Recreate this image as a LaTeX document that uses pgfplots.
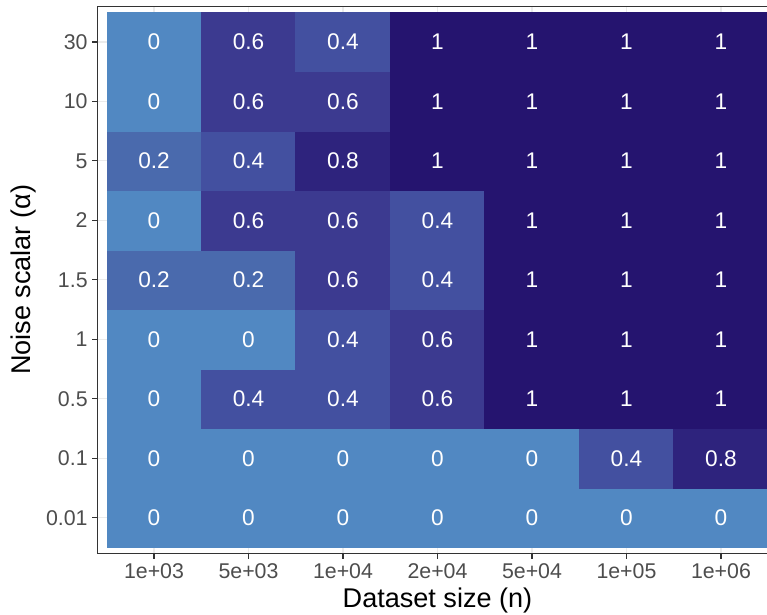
\documentclass[border=0pt]{standalone}
\usepackage{pgfplots}
\pgfplotsset{compat=1.18}
\usepackage{pgfplotstable}
\usepackage{fontspec}
\setmainfont{Liberation Sans}
\definecolor{tickgray}{HTML}{4D4D4D}
\definecolor{bordergray}{HTML}{333333}
\definecolor{gridgray}{HTML}{EBEBEB}
\pgfplotstableread{
x y c
0 0 0
1 0 0
2 0 0
3 0 0
4 0 0
5 0 0
6 0 0
0 1 0
1 1 0
2 1 0
3 1 0
4 1 0
5 1 0.4
6 1 0.8
0 2 0
1 2 0.4
2 2 0.4
3 2 0.6
4 2 1
5 2 1
6 2 1
0 3 0
1 3 0
2 3 0.4
3 3 0.6
4 3 1
5 3 1
6 3 1
0 4 0.2
1 4 0.2
2 4 0.6
3 4 0.4
4 4 1
5 4 1
6 4 1
0 5 0
1 5 0.6
2 5 0.6
3 5 0.4
4 5 1
5 5 1
6 5 1
0 6 0.2
1 6 0.4
2 6 0.8
3 6 1
4 6 1
5 6 1
6 6 1
0 7 0
1 7 0.6
2 7 0.6
3 7 1
4 7 1
5 7 1
6 7 1
0 8 0
1 8 0.6
2 8 0.4
3 8 1
4 8 1
5 8 1
6 8 1
}\heat
\begin{document}
\begin{tikzpicture}
\begin{axis}[
  scale only axis,
  width=510.3pt, height=410.55pt,
  xmin=-0.6, xmax=6.6, ymin=-0.6, ymax=8.6,
  axis line style={bordergray, line width=0.8pt},
  xtick={0,...,6},
  xticklabels={1e+03,5e+03,1e+04,2e+04,5e+04,1e+05,1e+06},
  ytick={0,...,8},
  yticklabels={0.01,0.1,0.5,1,1.5,2,5,10,30},
  tick align=outside,
  major tick length=3.75pt,
  tick style={bordergray, line width=0.8pt},
  xtick pos=bottom, ytick pos=left,
  ticklabel style={font=\fontsize{16}{19}\selectfont, text=tickgray},
  grid=major,
  major grid style={gridgray, line width=0.8pt},
  xlabel={Dataset size (n)},
  ylabel={Noise scalar (α)},
  label style={font=\fontsize{20.3}{24}\selectfont},
  xlabel style={yshift=0pt},
  ylabel style={yshift=1pt},
  colormap={hm}{rgb255=(81,136,194) rgb255=(74,106,173) rgb255=(67,80,160) rgb255=(60,58,144) rgb255=(46,35,125) rgb255=(37,20,111)},
  point meta min=0, point meta max=1,
  /pgf/number format/assume math mode=true,
]
\addplot[matrix plot*, mesh/cols=7, point meta=explicit] table[x=x, y=y, meta=c] {\heat};
\addplot[only marks, mark=none, point meta=explicit,
  nodes near coords={\pgfmathprintnumber[fixed, precision=1]{\pgfplotspointmeta}},
  nodes near coords align=center,
  every node near coord/.append style={white, anchor=center, font=\fontsize{17}{20}\selectfont}]
  table[x=x, y=y, meta=c] {\heat};
\end{axis}
\pgfresetboundingbox
\path ([xshift=-73pt, yshift=-46pt]current axis.south west) rectangle ([xshift=502.3pt, yshift=415.25pt]current axis.south west);
\end{tikzpicture}
\end{document}
